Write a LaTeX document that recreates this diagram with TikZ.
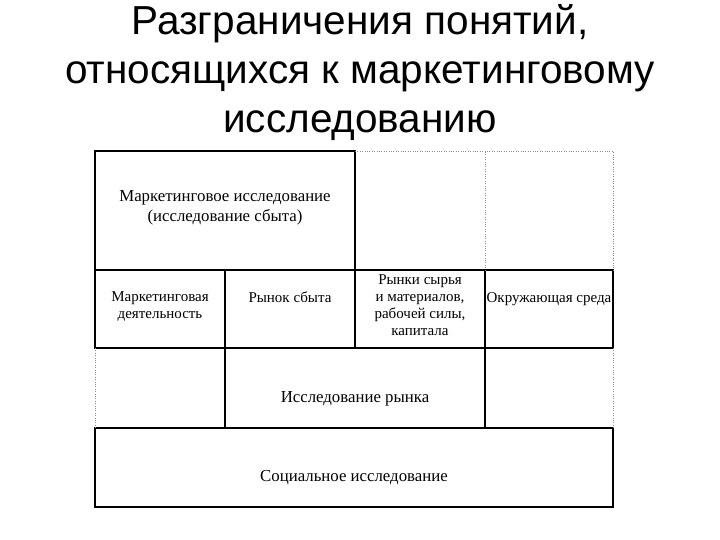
\documentclass[tikz,border=0pt]{standalone}
\usepackage{fontspec}
\setmainfont{Liberation Serif}
\newfontfamily\titlefont{Liberation Sans}
\usepackage{xcolor}
\usetikzlibrary{calc,positioning}
\definecolor{line}{HTML}{000000}
\definecolor{dots}{HTML}{8A8A8A}
\tikzset{
  cell/.style={draw=line, line width=1.6pt, outer sep=0pt, inner sep=0pt},
  bigcell/.style={cell, line width=2pt},
  lbl/.style={align=center, font=\fontsize{15}{17}\selectfont, inner sep=0pt},
  biglbl/.style={lbl, font=\fontsize{16.8}{20}\selectfont},
  dotline/.style={draw=dots, dotted, thin},
  ttl/.style={align=center, font=\titlefont\fontsize{40.5}{49}\selectfont}
}

\begin{document}
\begin{tikzpicture}[x=1pt,y=-1pt]
  \useasboundingbox (0,0) rectangle (720,540);
  \node[ttl] (title) at (360,73) {Разграничения понятий,\\относящихся к маркетинговому\\исследованию};
  % cells
  \node[bigcell, minimum width=260pt, minimum height=119pt] (mi) at (225,210.5) {};
  \node[cell, minimum width=130pt, minimum height=78pt] (md) at (160,309) {};
  \node[cell, minimum width=130pt, minimum height=78pt] (rs) at (290,309) {};
  \node[cell, minimum width=130pt, minimum height=78pt] (rsm) at (420,309) {};
  \node[cell, minimum width=128pt, minimum height=78pt] (env) at (549,309) {};
  \node[cell, minimum width=260pt, minimum height=80pt] (rr) at (355,388) {};
  \node[cell, minimum width=518pt, minimum height=79pt] (soc) at (354,467.5) {};
  \coordinate (tr) at (613,151);
  \draw[dotline] (mi.north east) -- (tr) -- (env.north east);
  \draw[dotline] (rsm.north east) -- (rsm.north east |- tr);
  \draw[dotline] (md.south west) -- (soc.north west);
  \draw[dotline] (env.south east) -- (soc.north east);
  % labels
  \node[biglbl] (miT) at ($(mi.center)+(0,-3)$) {Маркетинговое исследование\\(исследование сбыта)};
  \node[lbl, below=21pt of md.north] (mdT) {Маркетинговая\\деятельность};
  \node[lbl, below=22pt of rs.north] (rsT) {Рынок сбыта};
  \node[lbl, below=4pt of rsm.north] (rsmT) {Рынки сырья\\и материалов,\\рабочей силы,\\капитала};
  \node[lbl, below=22pt of env.north] (envT) {Окружающая среда};
  \node[biglbl] (rrT) at ($(rr.center)+(0,11)$) {Исследование рынка};
  \node[biglbl] (socT) at ($(soc.center)+(0,10)$) {Социальное исследование};
\end{tikzpicture}
\end{document}
